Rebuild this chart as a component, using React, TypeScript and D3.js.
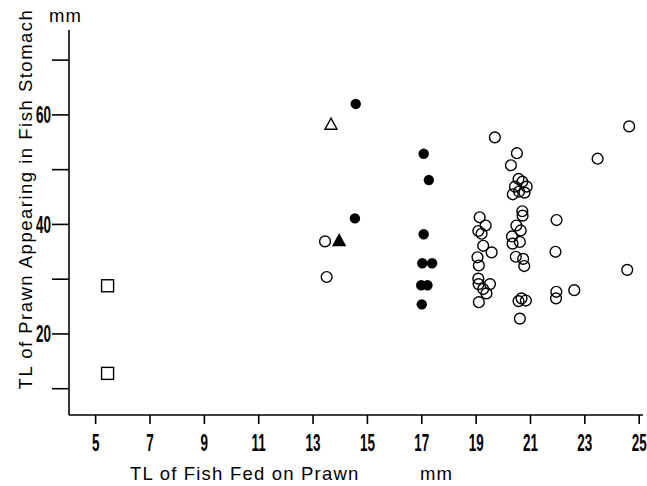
import React from "react";
import * as d3 from "d3";

// Data (TL of fish in mm, TL of prawn in stomach in mm)
const squares: [number, number][] = [
  [5.44, 28.8],
  [5.44, 12.8],
];
const openTriangles: [number, number][] = [[13.66, 58.3]];
const filledTriangles: [number, number][] = [[13.96, 37.05]];
const filledCircles: [number, number][] = [
  [14.57, 62.0], [14.54, 41.1],
  [17.07, 52.9], [17.26, 48.1], [17.07, 38.2], [17.02, 32.9], [17.38, 32.9],
  [16.98, 28.9], [17.21, 28.9], [17.0, 25.4],
];
const openCircles: [number, number][] = [
  [13.44, 36.9], [13.5, 30.4],
  [24.63, 57.9], [19.69, 55.9], [23.47, 52.0], [20.5, 53.0], [20.28, 50.8],
  [20.56, 48.3], [20.7, 47.8], [20.86, 46.9], [20.43, 46.9], [20.35, 45.5], [20.78, 45.8], [20.58, 46.0],
  [20.7, 42.4], [20.71, 41.6], [21.96, 40.8], [19.13, 41.3], [19.35, 39.8], [19.08, 38.8], [19.2, 38.3],
  [20.48, 39.8], [20.64, 38.9], [20.32, 37.8], [20.34, 36.5], [20.61, 36.8], [19.26, 36.1], [19.57, 34.9],
  [21.92, 35.0], [19.05, 34.0], [20.46, 34.1], [20.73, 33.7], [19.1, 32.5], [20.77, 32.4], [24.56, 31.7],
  [19.08, 30.1], [19.51, 29.1], [19.09, 29.1], [19.26, 28.2], [19.38, 27.4], [21.95, 27.7], [21.94, 26.5],
  [22.61, 28.0], [19.1, 25.8], [20.67, 26.5], [20.83, 26.1], [20.56, 26.0], [20.61, 22.8],
];
const xTicks = [5, 7, 9, 11, 13, 15, 17, 19, 21, 23, 25];
const yTicks = [10, 20, 30, 40, 50, 60, 70];
const yLabels = [20, 40, 60];

const W = 647;
const H = 486;

export default function App() {
  const x = d3.scaleLinear().domain([4.02, 25.14]).range([69, 643]);
  const y = d3.scaleLinear().domain([5.2, 75.5]).range([415, 30]);
  const digitFont = "'Liberation Sans', Arial, sans-serif";
  const titleFont = "'Liberation Sans', Arial, sans-serif";
  const tri = (cx: number, cy: number) => {
    const h = 10, w = 12;
    return `M${cx},${cy - h / 2 - 1}L${cx + w / 2},${cy + h / 2}L${cx - w / 2},${cy + h / 2}Z`;
  };
  return (
    <svg width={W} height={H} style={{ position: "absolute", left: 0, top: 0, background: "#fff" }}>
      <g stroke="#000" strokeWidth={1.6} fill="none">
        <line x1={x(4.02)} x2={x(25.14)} y1={y(5.2)} y2={y(5.2)} />
        <line x1={x(4.02)} x2={x(4.02)} y1={y(5.2)} y2={y(75.5)} />
        {xTicks.map((t) => (
          <line key={"xt" + t} x1={x(t)} x2={x(t)} y1={y(5.2)} y2={y(5.2) + 9} />
        ))}
        {yTicks.map((t) => (
          <line key={"yt" + t} x1={x(4.02) - 17} x2={x(4.02)} y1={y(t)} y2={y(t)} />
        ))}
      </g>
      <g fontFamily={digitFont} fontSize={24} fontWeight="bold" fill="#000">
        {xTicks.map((t) => (
          <text key={"xl" + t} textAnchor="middle" transform={`translate(${x(t)},${451}) scale(0.56,1)`}>
            {t}
          </text>
        ))}
        {yLabels.map((t) => (
          <text key={"yl" + t} textAnchor="end" transform={`translate(${x(4.02) - 18},${y(t) + 8.5}) scale(0.56,1)`}>
            {t}
          </text>
        ))}
      </g>
      <g fontFamily={titleFont} fontSize={18.5} fill="#000">
        <text x={130} y={480} letterSpacing={1.2}>TL of Fish Fed on Prawn</text>
        <text x={420} y={480} letterSpacing={1.2}>mm</text>
        <text x={49} y={22} letterSpacing={1.2}>mm</text>
        <text transform={`translate(32,${(390 + 8) / 2}) rotate(-90)`} textAnchor="middle" letterSpacing={1.5}>
          TL of Prawn Appearing  in Fish Stomach
        </text>
      </g>
      <g stroke="#000" strokeWidth={1.4}>
        {squares.map((d, i) => (
          <rect key={"sq" + i} x={x(d[0]) - 6} y={y(d[1]) - 6} width={12} height={12} fill="#fff" />
        ))}
        {openCircles.map((d, i) => (
          <circle key={"oc" + i} cx={x(d[0])} cy={y(d[1])} r={5.4} fill="none" />
        ))}
        {filledCircles.map((d, i) => (
          <circle key={"fc" + i} cx={x(d[0])} cy={y(d[1])} r={5.2} fill="#000" stroke="none" />
        ))}
        {openTriangles.map((d, i) => (
          <path key={"ot" + i} d={tri(x(d[0]), y(d[1]))} fill="#fff" />
        ))}
        {filledTriangles.map((d, i) => (
          <path key={"ft" + i} d={tri(x(d[0]), y(d[1]))} fill="#000" />
        ))}
      </g>
    </svg>
  );
}
